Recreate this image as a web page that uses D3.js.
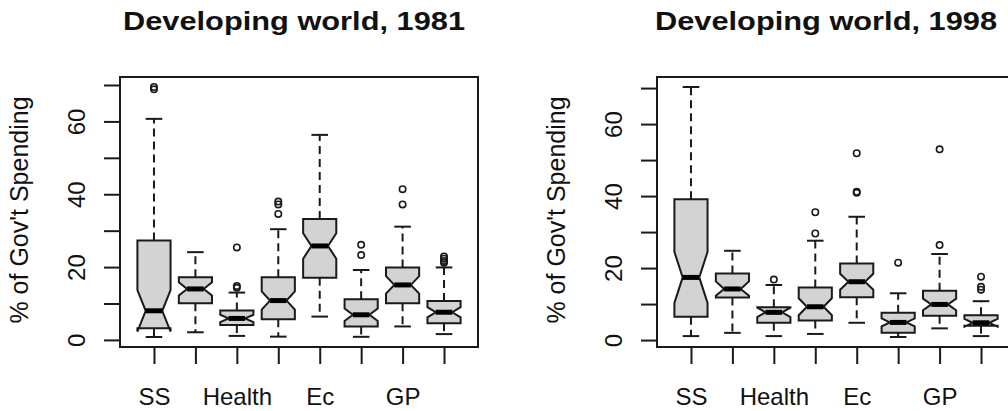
<!DOCTYPE html>
<html>
<head>
<meta charset="utf-8">
<script src="https://cdn.jsdelivr.net/npm/d3@7"></script>
<style>
  body { margin: 0; background: #fff; }
  svg { display: block; }
  text { font-family: "Liberation Sans", Arial, sans-serif; fill: #111; }
</style>
</head>
<body>
<div id="chart"></div>
<script>
// group labels (R only printed every second one)
var categories = ["SS", "", "Health", "", "Ec", "", "GP", ""];
var yTicks = [0, 10, 20, 30, 40, 50, 60, 70];
var yTickLabels = ["0", "", "20", "", "40", "", "60", ""];
var titles = ["Developing world, 1981", "Developing world, 1998"];
var yTitle = "% of Gov't Spending";

// 1981 box stats
var low81    = [0.8, 2.1, 1.1, 0.9, 6.4, 0.85, 3.7, 1.6];
var q1_81    = [3.2, 10.1, 4.1, 5.7, 17.1, 3.7, 10.1, 4.6];
var med81    = [8.0, 14.0, 5.9, 10.8, 25.8, 6.9, 15.1, 7.6];
var q3_81    = [27.3, 17.2, 8.05, 17.2, 33.2, 11.2, 19.9, 10.7];
var high81   = [60.7, 24.1, 13.0, 30.4, 56.3, 19.2, 31.1, 19.9];
var notchLo81 = [2.3, 12.2, 4.9, 8.3, 22.3, 5.2, 12.7, 6.2];
var notchHi81 = [13.7, 15.8, 6.9, 13.3, 29.3, 8.6, 17.5, 9.0];
var out81 = [[69.45, 68.8], [], [25.4, 14.8, 14.3], [38.0, 37.2, 34.6], [],
             [26.1, 23.3], [41.4, 37.2], [22.9, 22.3, 21.7, 21.2]];

// 1998 box stats
var low98    = [1.1, 2.0, 1.1, 1.7, 4.8, 0.85, 3.25, 1.1];
var q1_98    = [6.5, 11.8, 4.8, 5.4, 11.9, 2.0, 6.75, 4.0];
var med98    = [17.4, 14.2, 7.7, 9.25, 16.2, 4.9, 9.9, 4.8];
var q3_98    = [39.1, 18.5, 9.1, 14.6, 21.3, 7.6, 13.7, 6.9];
var high98   = [70.3, 24.8, 15.3, 27.6, 34.25, 13.0, 23.9, 10.8];
var notchLo98 = [10.3, 12.3, 6.4, 6.9, 14.0, 3.8, 8.3, 3.7];
var notchHi98 = [24.5, 16.3, 9.0, 11.6, 18.4, 6.0, 11.5, 5.9];
var out98 = [[], [], [16.8], [35.5, 29.6], [51.9, 41.2, 40.9],
             [21.5], [53.0, 26.4], [17.6, 14.8, 14.0]];

(function(d3) {
    var W = 1008, H = 411;
    var plot = {left: 120, right: 478, top: 77, bottom: 347};
    var panelShift = 537;
    var titleX = [294, 289];
    var ink = '#1a1a1a';

    var panels = [
        {title: titles[0], low: low81, q1: q1_81, med: med81, q3: q3_81, high: high81, nlo: notchLo81, nhi: notchHi81, out: out81},
        {title: titles[1], low: low98, q1: q1_98, med: med98, q3: q3_98, high: high98, nlo: notchLo98, nhi: notchHi98, out: out98}
    ];

    var svg = d3.select('#chart')
        .append('svg')
        .attr('width', W)
        .attr('height', H);

    panels.forEach(function(p, k) {
        var g = svg.append('g').attr('transform', 'translate(' + (k * panelShift) + ',0)');
        var n = categories.length;

        // R style limits: 4% padding on each side
        var x = d3.scaleLinear()
            .domain([0.5 - 0.04 * n, n + 0.5 + 0.04 * n])
            .range([plot.left, plot.right]);
        var ext = d3.extent(p.low.concat(p.high, d3.merge(p.out)));
        var pad = (ext[1] - ext[0]) * 0.04;
        var y = d3.scaleLinear()
            .domain([ext[0] - pad, ext[1] + pad])
            .range([plot.bottom, plot.top]);

        var boxHalf = x(1.4) - x(1);      // boxwex 0.8
        var stapleHalf = boxHalf / 2;
        var idx = d3.range(n);

        // whiskers (dashed)
        g.selectAll('.wup').data(idx).enter().append('line')
            .attr('x1', function(i) { return x(i + 1); })
            .attr('x2', function(i) { return x(i + 1); })
            .attr('y1', function(i) { return y(p.q3[i]); })
            .attr('y2', function(i) { return y(p.high[i]); })
            .attr('stroke', ink).attr('stroke-width', 2)
            .attr('stroke-dasharray', '8,5');
        g.selectAll('.wdn').data(idx).enter().append('line')
            .attr('x1', function(i) { return x(i + 1); })
            .attr('x2', function(i) { return x(i + 1); })
            .attr('y1', function(i) { return y(p.q1[i]); })
            .attr('y2', function(i) { return y(p.low[i]); })
            .attr('stroke', ink).attr('stroke-width', 2)
            .attr('stroke-dasharray', '8,5');

        // staples
        [p.high, p.low].forEach(function(arr) {
            g.selectAll(null).data(idx).enter().append('line')
                .attr('x1', function(i) { return x(i + 1) - stapleHalf; })
                .attr('x2', function(i) { return x(i + 1) + stapleHalf; })
                .attr('y1', function(i) { return y(arr[i]); })
                .attr('y2', function(i) { return y(arr[i]); })
                .attr('stroke', ink).attr('stroke-width', 2);
        });

        // notched boxes, same polygon as R's bxp
        g.selectAll('.box').data(idx).enter().append('polygon')
            .attr('points', function(i) {
                var cx = x(i + 1), w = boxHalf, nw = boxHalf * 0.5;
                var pts = [
                    [cx - w, y(p.q1[i])], [cx + w, y(p.q1[i])], [cx + w, y(p.nlo[i])],
                    [cx + nw, y(p.med[i])], [cx + w, y(p.nhi[i])], [cx + w, y(p.q3[i])],
                    [cx - w, y(p.q3[i])], [cx - w, y(p.nhi[i])], [cx - nw, y(p.med[i])],
                    [cx - w, y(p.nlo[i])]
                ];
                return pts.map(function(d) { return d.join(','); }).join(' ');
            })
            .attr('fill', '#d3d3d3')
            .attr('stroke', ink).attr('stroke-width', 2)
            .attr('stroke-linejoin', 'miter');

        // medians
        g.selectAll('.med').data(idx).enter().append('line')
            .attr('x1', function(i) { return x(i + 1) - boxHalf * 0.5; })
            .attr('x2', function(i) { return x(i + 1) + boxHalf * 0.5; })
            .attr('y1', function(i) { return y(p.med[i]); })
            .attr('y2', function(i) { return y(p.med[i]); })
            .attr('stroke', '#000').attr('stroke-width', 5);

        // outliers
        var pts = [];
        p.out.forEach(function(arr, i) {
            arr.forEach(function(v) { pts.push({i: i, v: v}); });
        });
        g.selectAll('.out').data(pts).enter().append('circle')
            .attr('cx', function(d) { return x(d.i + 1); })
            .attr('cy', function(d) { return y(d.v); })
            .attr('r', 3.2)
            .attr('fill', 'none')
            .attr('stroke', ink).attr('stroke-width', 1.6);

        // frame
        g.append('rect')
            .attr('x', plot.left).attr('y', plot.top)
            .attr('width', plot.right - plot.left)
            .attr('height', plot.bottom - plot.top)
            .attr('fill', 'none')
            .attr('stroke', ink).attr('stroke-width', 2);

        // y axis
        var ya = g.append('g')
            .attr('transform', 'translate(' + plot.left + ',0)')
            .call(d3.axisLeft(y).tickValues(yTicks).tickSize(16)
                .tickFormat(function(d, i) { return yTickLabels[i]; }));
        ya.select('.domain').remove();
        ya.selectAll('line').attr('stroke', ink).attr('stroke-width', 2);
        ya.selectAll('text')
            .attr('x', 0).attr('y', -35).attr('dy', 0)
            .attr('text-anchor', 'middle')
            .attr('transform', 'rotate(-90)')
            .attr('font-size', 24)
            .attr('font-family', '"Liberation Sans", Arial, sans-serif')
            .attr('fill', '#111');

        // x axis
        var xa = g.append('g')
            .attr('transform', 'translate(0,' + plot.bottom + ')')
            .call(d3.axisBottom(x).tickValues(d3.range(1, n + 1)).tickSize(17)
                .tickFormat(function(d) { return categories[d - 1]; }));
        xa.select('.domain').remove();
        xa.selectAll('line').attr('stroke', ink).attr('stroke-width', 2);
        xa.selectAll('text')
            .attr('y', 58).attr('dy', 0)
            .attr('font-size', 24)
            .attr('font-family', '"Liberation Sans", Arial, sans-serif')
            .attr('fill', '#111');

        // y title
        g.append('text')
            .attr('transform', 'translate(28,' + ((plot.top + plot.bottom) / 2 - 2) + ') rotate(-90)')
            .attr('text-anchor', 'middle')
            .attr('font-size', 25)
            .text(yTitle);

        // title
        g.append('text')
            .attr('x', titleX[k]).attr('y', 30)
            .attr('text-anchor', 'middle')
            .attr('font-size', 25)
            .attr('font-weight', 'bold')
            .attr('font-family', '"DejaVu Sans", sans-serif')
            .attr('textLength', 342)
            .attr('lengthAdjust', 'spacingAndGlyphs')
            .text(p.title);
    });
}(window.d3));
</script>
</body>
</html>
